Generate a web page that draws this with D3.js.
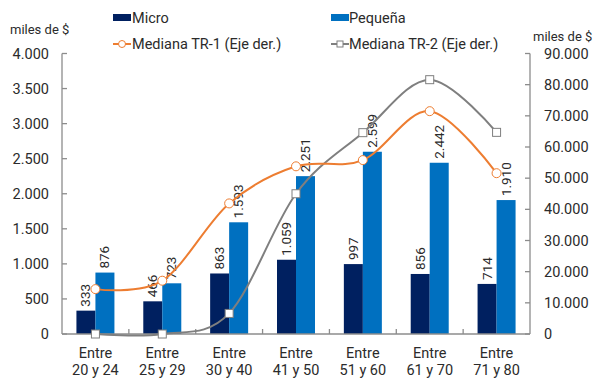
<!DOCTYPE html>
<html>
<head>
<meta charset="utf-8">
<script src="https://cdn.jsdelivr.net/npm/d3@7"></script>
<style>
  body { margin: 0; background: #fff; }
  svg { display: block; font-family: Roboto, "Noto Sans", sans-serif; }
</style>
</head>
<body>
<svg id="chart" width="593" height="379"></svg>
<script>
// Age brackets
const categories = [["Entre", "20 y 24"], ["Entre", "25 y 29"], ["Entre", "30 y 40"], ["Entre", "41 y 50"], ["Entre", "51 y 60"], ["Entre", "61 y 70"], ["Entre", "71 y 80"]];
// Bars (left axis, miles de $)
const micro = [333, 466, 863, 1059, 997, 856, 714];
const pequena = [876, 723, 1593, 2251, 2599, 2442, 1910];
// Lines (right axis, miles de $)
const tr1 = [14400, 17100, 41900, 53800, 55800, 71500, 51600];
const tr2 = [0, 0, 6600, 45000, 64600, 81600, 64700];
const leftTicks = [0, 500, 1000, 1500, 2000, 2500, 3000, 3500, 4000];
const rightTicks = [0, 10000, 20000, 30000, 40000, 50000, 60000, 70000, 80000, 90000];

const colors = { micro: "#002060", pequena: "#0070C0", tr1: "#ED7D31", tr2: "#7F7F7F", axis: "#8C8C8C", text: "#2b2b2b" };

const fmt = v => d3.format(",")(v).replace(/,/g, ".");

const svg = d3.select("#chart");
const m = { left: 62, right: 530, top: 53.5, bottom: 334 };

const x = d3.scaleBand().domain(d3.range(categories.length)).range([m.left, m.right]).paddingInner(0).paddingOuter(0);
const barW = 19;
const yL = d3.scaleLinear().domain([0, 4000]).range([m.bottom, m.top]);
const yR = d3.scaleLinear().domain([0, 90000]).range([m.bottom, m.top]);

// Bars
const cx = i => x(i) + x.bandwidth() / 2;
svg.append("g").selectAll("rect").data(micro).join("rect")
  .attr("x", (d, i) => cx(i) - barW).attr("width", barW)
  .attr("y", d => yL(d)).attr("height", d => yL(0) - yL(d))
  .attr("fill", colors.micro);
svg.append("g").selectAll("rect").data(pequena).join("rect")
  .attr("x", (d, i) => cx(i)).attr("width", barW)
  .attr("y", d => yL(d)).attr("height", d => yL(0) - yL(d))
  .attr("fill", colors.pequena);

// Bar value labels (vertical)
function barLabels(data, off) {
  svg.append("g").selectAll("text").data(data).join("text")
    .attr("transform", (d, i) => `translate(${cx(i) + off + 4.5},${yL(d) - 4}) rotate(-90)`)
    .attr("font-size", 13.5).attr("fill", colors.text)
    .text(d => fmt(d));
}
barLabels(micro, -barW / 2);
barLabels(pequena, barW / 2);

// Axes
const axG = svg.append("g").attr("stroke", colors.axis).attr("stroke-width", 1.3).attr("fill", "none");
axG.append("line").attr("x1", m.left).attr("x2", m.left).attr("y1", m.top).attr("y2", m.bottom);
axG.append("line").attr("x1", m.right).attr("x2", m.right).attr("y1", m.top).attr("y2", m.bottom);
axG.append("line").attr("x1", m.left).attr("x2", m.right).attr("y1", m.bottom).attr("y2", m.bottom);
leftTicks.forEach(t => axG.append("line").attr("x1", m.left).attr("x2", m.left + 5).attr("y1", yL(t)).attr("y2", yL(t)));
rightTicks.forEach(t => axG.append("line").attr("x1", m.right - 5).attr("x2", m.right).attr("y1", yR(t)).attr("y2", yR(t)));
d3.range(1, categories.length).forEach(i => axG.append("line").attr("x1", x(i)).attr("x2", x(i)).attr("y1", m.bottom).attr("y2", m.bottom - 5));

svg.append("g").selectAll("text").data(leftTicks).join("text")
  .attr("x", 49).attr("y", d => yL(d)).attr("dy", "0.35em").attr("text-anchor", "end")
  .attr("font-size", 14.5).attr("fill", colors.text).text(d => fmt(d));
svg.append("g").selectAll("text").data(rightTicks).join("text")
  .attr("x", 544).attr("y", d => yR(d)).attr("dy", "0.35em").attr("text-anchor", "start")
  .attr("font-size", 14.5).attr("fill", colors.text).text(d => fmt(d));

// Category labels
const cl = svg.append("g").selectAll("text").data(categories).join("text")
  .attr("x", (d, i) => cx(i)).attr("text-anchor", "middle")
  .attr("font-size", 14.5).attr("fill", colors.text);
cl.append("tspan").attr("x", (d, i) => cx(i)).attr("y", 358).text(d => d[0]);
cl.append("tspan").attr("x", (d, i) => cx(i)).attr("y", 374.5).text(d => d[1]);

// Axis titles
svg.append("text").attr("x", 10).attr("y", 34).attr("font-size", 13).attr("fill", colors.text).text("miles de $");
svg.append("text").attr("x", 533).attr("y", 41).attr("font-size", 13).attr("fill", colors.text).text("miles de $");

// Lines
const line = d3.line().x((d, i) => cx(i)).y(d => yR(d)).curve(d3.curveCardinal.tension(0));
svg.append("path").datum(tr2).attr("d", line).attr("fill", "none").attr("stroke", colors.tr2).attr("stroke-width", 2);
svg.append("path").datum(tr1).attr("d", line).attr("fill", "none").attr("stroke", colors.tr1).attr("stroke-width", 2);
svg.append("g").selectAll("rect").data(tr2).join("rect")
  .attr("x", (d, i) => cx(i) - 4).attr("y", d => yR(d) - 4).attr("width", 8).attr("height", 8)
  .attr("fill", "#fff").attr("stroke", colors.tr2).attr("stroke-width", 1);
svg.append("g").selectAll("circle").data(tr1).join("circle")
  .attr("cx", (d, i) => cx(i)).attr("cy", d => yR(d)).attr("r", 4.5)
  .attr("fill", "#fff").attr("stroke", colors.tr1).attr("stroke-width", 1);

// Legend
const lg = svg.append("g").attr("font-size", 14.5).attr("fill", colors.text);
lg.append("rect").attr("x", 113).attr("y", 14).attr("width", 18).attr("height", 7).attr("fill", colors.micro);
lg.append("text").attr("x", 132).attr("y", 23).text("Micro");
lg.append("rect").attr("x", 331).attr("y", 14).attr("width", 18).attr("height", 7).attr("fill", colors.pequena);
lg.append("text").attr("x", 349).attr("y", 23).text("Pequeña");
lg.append("line").attr("x1", 113).attr("x2", 131).attr("y1", 44).attr("y2", 44).attr("stroke", colors.tr1).attr("stroke-width", 2);
lg.append("circle").attr("cx", 122).attr("cy", 44).attr("r", 3.5).attr("fill", "#fff").attr("stroke", colors.tr1);
lg.append("text").attr("x", 132).attr("y", 49).text("Mediana TR-1 (Eje der.)");
lg.append("line").attr("x1", 331).attr("x2", 349).attr("y1", 44).attr("y2", 44).attr("stroke", colors.tr2).attr("stroke-width", 2);
lg.append("rect").attr("x", 337).attr("y", 41).attr("width", 6).attr("height", 6).attr("fill", "#fff").attr("stroke", colors.tr2);
lg.append("text").attr("x", 349).attr("y", 49).text("Mediana TR-2 (Eje der.)");
</script>
</body>
</html>
